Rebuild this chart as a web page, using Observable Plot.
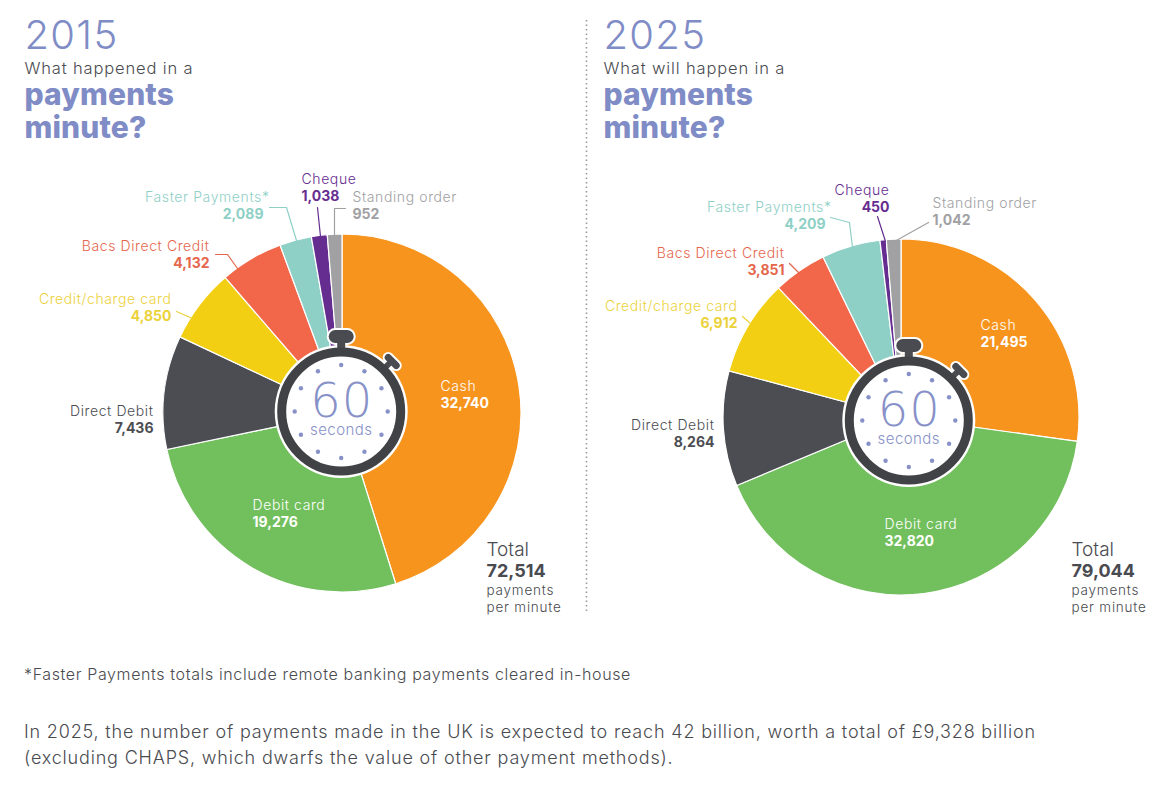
<!DOCTYPE html>
<html><head><meta charset="utf-8">
<script src="https://cdn.jsdelivr.net/npm/d3@7"></script>
<script src="https://cdn.jsdelivr.net/npm/@observablehq/plot@0.6"></script>
<style>
html,body{margin:0;padding:0;background:#fff;}
#chart{width:1162px;height:790px;overflow:hidden;font-family:Inter,sans-serif;color:#4a4b50;}
#notes{position:relative;}
#notes p{margin:0;position:absolute;left:24px;white-space:nowrap;font-weight:350;}
.ls-name{letter-spacing:.6px}
.ls-q{letter-spacing:.85px}
.ls-small{letter-spacing:.8px}
.ls-60{letter-spacing:1px}
.ls-sec{letter-spacing:.45px}
.ls-year{letter-spacing:1.3px}
.ls-head{letter-spacing:.15px}
</style></head><body><div id="chart"></div>
<script>
// ---------- data ----------
const categories = ["Cash","Debit card","Direct Debit","Credit/charge card","Bacs Direct Credit","Faster Payments*","Cheque","Standing order"];
const values2015 = [32740,19276,7436,4850,4132,2089,1038,952];
const values2025 = [21495,32820,8264,6912,3851,4209,450,1042];
const total2015 = 72514;
const total2025 = 79044;
const years = ["2015","2025"];
const questions = ["What happened in a","What will happen in a"];
const footnote = "*Faster Payments totals include remote banking payments cleared in-house";
const bodyLines = ["In 2025, the number of payments made in the UK is expected to reach 42 billion, worth a total of £9,328 billion","(excluding CHAPS, which dwarfs the value of other payment methods)."];

// ---------- styles ----------
const sliceColors = ["#f7941e","#72bf5d","#4b4d52","#f2cf13","#f26649","#8fd0c6","#652d90","#a1a1a3"];
const labelColors = ["#ffffff","#ffffff","#4b4d52","#ecd23a","#e5664c","#8fd0c6","#652d90","#a1a1a3"];
const periwinkle = "#7f8cc6", ink = "#4a4b50", FONT = "Inter, sans-serif";

// ---------- layout (pixels of the page) ----------
const W = 1162, H = 640;
const pies = [{cx:342,cy:413,r:179,wx:340.7,wy:411},{cx:901,cy:417,r:178,wx:908.3,wy:420}];
const headX = [24,603];
const totalX = [486,1071];
// label anchor per category: [x, y of name, x of value, text-anchor]
const labelPos2015 = [[440,386,440,"start"],[252,505,252,"start"],[153,411,153,"end"],[171,299,171,"end"],[209,246,209,"end"],[269,197,263,"end"],[301,179,301,"start"],[352,197,352,"start"]];
const labelPos2025 = [[980,325,980,"start"],[884,524,884,"start"],[714,425,714,"end"],[737,306,737,"end"],[784,253,784,"end"],[831,207,825,"end"],[889,190,889,"end"],[932,203,932,"start"]];
const leaders2015 = {3:[[176,311],[192,318]],4:[[215,254],[227,254],[237,268]],5:[[269,207],[286,207],[296,240]],6:[[317,207],[320,236]],7:[[345,208],[334,208],[334,234]]};
const leaders2025 = {3:[[742,316],[750,323]],4:[[789,263],[799,273]],5:[[830,217],[849,222],[852,247]],6:[[877,216],[885,241]],7:[[928,222],[894,241]]};

const fmt = d3.format(",");
const pieGen = d3.pie().sort(null).startAngle(0).endAngle(2*Math.PI);

function pieMark(values, p){
  const arcs = pieGen(values);
  const arc = d3.arc().innerRadius(0).outerRadius(p.r);
  return (index, scales) => {
    const g = d3.create("svg:g").attr("aria-label","pie")
      .attr("transform",`translate(${scales.x(p.cx)},${scales.y(p.cy)})`);
    g.selectAll("path").data(arcs).join("path")
      .attr("d",arc).attr("fill",(d,i)=>sliceColors[i])
      .attr("stroke","#fff").attr("stroke-width",1.2).attr("stroke-linejoin","round");
    return g.node();
  };
}

function labelMarks(values, pos){
  const rows = categories.map((c,i)=>({c,i,v:fmt(values[i]),x:pos[i][0],y:pos[i][1],vx:pos[i][2],a:pos[i][3]}));
  const out = [];
  for (const a of ["start","end"]) {
    const sub = rows.filter(d=>d.a===a);
    out.push(Plot.text(sub,{x:"x",y:"y",text:"c",fill:d=>labelColors[d.i],textAnchor:a,fontSize:14,fontWeight:350,fontFamily:FONT,className:"ls-name"}));
    out.push(Plot.text(sub,{x:"vx",y:d=>d.y+17,text:"v",fill:d=>labelColors[d.i],textAnchor:a,fontSize:14,fontWeight:700,fontFamily:FONT}));
  }
  return out;
}

function leaderMarks(leaders){
  return Object.entries(leaders).map(([i,pts])=>Plot.line(pts,{x:d=>d[0],y:d=>d[1],stroke:labelColors[+i],strokeWidth:1.2,curve:"linear"}));
}

function watchMarks(p){
  const {wx:x,wy:y} = p;
  const ticks = d3.range(12).map(i=>{const t=i*Math.PI/6;return {x:x+46.5*Math.sin(t),y:y-46.5*Math.cos(t)};});
  const crown = [[x-6,y-75],[x+6,y-75]], stem=[[x,y-75],[x,y-60]];
  const knobS = [[x+37,y-37],[x+48,y-48]], knobC=[[x+47,y-54],[x+55,y-46]];
  const ln = (pts,stroke,w)=>Plot.line(pts,{x:d=>d[0],y:d=>d[1],stroke,strokeWidth:w,strokeLinecap:"round",curve:"linear"});
  return [
    ln(crown,"#fff",17), ln(knobC,"#fff",11), ln(knobS,"#fff",10),
    Plot.dot([{x,y}],{x:"x",y:"y",r:66.5,fill:"#fff"}),
    ln(stem,ink,8), ln(knobS,ink,6),
    ln(crown,ink,13), ln(knobC,ink,7),
    Plot.dot([{x,y}],{x:"x",y:"y",r:59.5,fill:"#fff",stroke:"#414246",strokeWidth:9}),
    Plot.dot(ticks,{x:"x",y:"y",r:2.2,fill:"#8791c8"}),
    Plot.text(["60"],{x:()=>x+.5,y:()=>y-10,text:d=>d,fontSize:48,fontWeight:200,fill:"#8791c8",fontFamily:"'DejaVu Sans', sans-serif",className:"ls-60"}),
    Plot.text(["seconds"],{x:()=>x,y:()=>y+19,text:d=>d,fontSize:15,fontWeight:300,fill:"#8791c8",fontFamily:FONT,className:"ls-sec"})
  ];
}

function headMarks(k){
  const x = headX[k];
  const t = (s,y,size,w,fill,c)=>Plot.text([s],{x:()=>x,y:()=>y,text:d=>d,textAnchor:"start",fontSize:size,fontWeight:w,fill,fontFamily:FONT,className:c});
  return [t(years[k],36,40,300,periwinkle,"ls-year"),t(questions[k],68,16.5,350,ink,"ls-q"),t("payments",95,30,800,periwinkle,"ls-head"),t("minute?",128,30,800,periwinkle,"ls-head")];
}

function totalMarks(k,total){
  const x = totalX[k];
  const t = (s,y,size,w,c)=>Plot.text([s],{x:()=>x,y:()=>y,text:d=>d,textAnchor:"start",fontSize:size,fontWeight:w,fill:ink,fontFamily:FONT,className:c});
  return [t("Total",549,19,300),t(fmt(total),571,18,700),t("payments",590,13.5,350,"ls-small"),t("per minute",607,13.5,350,"ls-small")];
}

const chart = Plot.plot({
  width:W,height:H,margin:0,
  x:{domain:[0,W],range:[0,W],axis:null},
  y:{domain:[0,H],range:[0,H],axis:null},
  style:{background:"#fff",fontFamily:FONT},
  marks:[
    Plot.ruleX([586],{y1:20,y2:612,stroke:"#9a9a9a",strokeWidth:1.6,strokeDasharray:"1.5 3"}),
    ...headMarks(0),...headMarks(1),
    pieMark(values2015,pies[0]),pieMark(values2025,pies[1]),
    ...leaderMarks(leaders2015),...leaderMarks(leaders2025),
    ...watchMarks(pies[0]),...watchMarks(pies[1]),
    ...labelMarks(values2015,labelPos2015),...labelMarks(values2025,labelPos2025),
    ...totalMarks(0,total2015),...totalMarks(1,total2025)
  ]
});
const root = document.getElementById("chart");
root.appendChild(chart);
const notes = d3.select(root).append("div").attr("id","notes");
notes.append("p").style("top","24px").style("font-size","16px").style("line-height","20px").style("letter-spacing",".62px").text(footnote);
notes.selectAll("p.b").data(bodyLines).join("p").attr("class","b")
  .style("top",(d,i)=>(81+i*26)+"px").style("font-size","18px").style("line-height","22px").style("letter-spacing",".82px").text(d=>d);
</script></body></html>
